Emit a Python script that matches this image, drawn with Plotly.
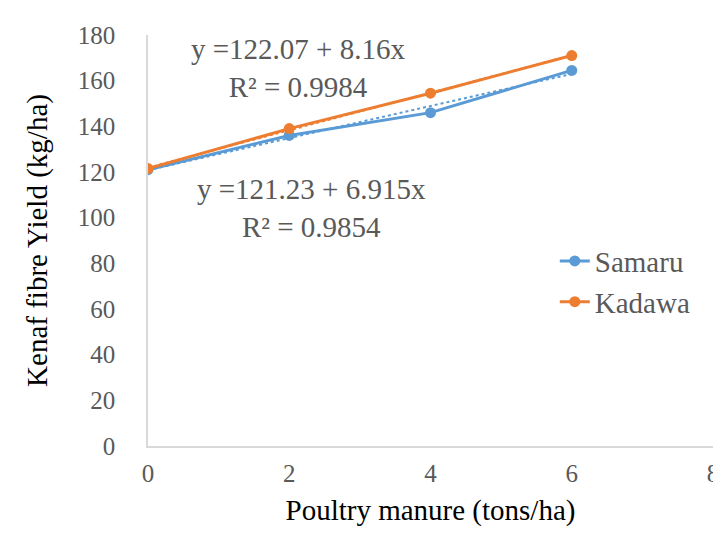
import plotly.graph_objects as go
import numpy as np

manure = [0, 2, 4, 6]
samaru = [121, 136, 146, 164.5]
kadawa = [121.5, 139, 154.5, 171]
x_ticks = [0, 2, 4, 6, 8]
y_ticks = [0, 20, 40, 60, 80, 100, 120, 140, 160, 180]

kadawa_eq = "y =122.07 + 8.16x<br>R² = 0.9984"
samaru_eq = "y =121.23 + 6.915x<br>R² = 0.9854"

BLUE = "#5B9BD5"
ORANGE = "#ED7D31"
GRAY = "#595959"
FONT = "Liberation Serif"

fig = go.Figure()

# linear trendlines (least squares fit of the data)
xs = np.array(manure, dtype=float)
for ys, col in [(samaru, BLUE), (kadawa, ORANGE)]:
    b, a = np.polyfit(xs, np.array(ys, dtype=float), 1)
    fig.add_trace(go.Scatter(x=xs, y=a + b * xs, mode="lines",
                             line=dict(color=col, width=2, dash="dot"),
                             showlegend=False, hoverinfo="skip"))

fig.add_trace(go.Scatter(x=manure, y=samaru, name="Samaru", mode="lines+markers",
                         line=dict(color=BLUE, width=3),
                         marker=dict(size=11, color=BLUE)))
fig.add_trace(go.Scatter(x=manure, y=kadawa, name="Kadawa", mode="lines+markers",
                         line=dict(color=ORANGE, width=3),
                         marker=dict(size=11, color=ORANGE)))

fig.add_annotation(text=kadawa_eq, xref="paper", yref="paper", x=0.265, y=0.92,
                   xanchor="center", yanchor="middle", showarrow=False,
                   font=dict(family=FONT, size=29, color=GRAY), align="center")
fig.add_annotation(text=samaru_eq, xref="paper", yref="paper", x=0.29, y=0.58,
                   xanchor="center", yanchor="middle", showarrow=False,
                   font=dict(family=FONT, size=29, color=GRAY), align="center")

fig.update_layout(
    width=721, height=537,
    margin=dict(l=140, r=16, t=27, b=99),
    paper_bgcolor="white", plot_bgcolor="white",
    font=dict(family=FONT, size=25, color=GRAY),
    showlegend=True,
    legend=dict(x=0.72, y=0.40, xanchor="left", yanchor="middle",
                font=dict(family=FONT, size=29, color=GRAY),
                bgcolor="rgba(0,0,0,0)"),
    xaxis=dict(range=[0, 8], tickvals=x_ticks, showgrid=False, zeroline=False,
               showline=True, linecolor="#D9D9D9", linewidth=1.5,
               ticks="", ticklabelstandoff=4, automargin=False,
               tickfont=dict(family=FONT, size=25, color=GRAY),
               title=dict(text="Poultry manure (tons/ha)",
                          font=dict(family=FONT, size=29, color="black"), standoff=14)),
    yaxis=dict(range=[0, 180], tickvals=y_ticks, showgrid=False, zeroline=False,
               showline=True, linecolor="#D9D9D9", linewidth=1.5,
               ticks="", ticklabelstandoff=26, automargin=False,
               tickfont=dict(family=FONT, size=25, color=GRAY),
               title=dict(text="Kenaf fibre Yield (kg/ha)",
                          font=dict(family=FONT, size=29, color="black"), standoff=22)),
)

fig.write_html("out.html")
